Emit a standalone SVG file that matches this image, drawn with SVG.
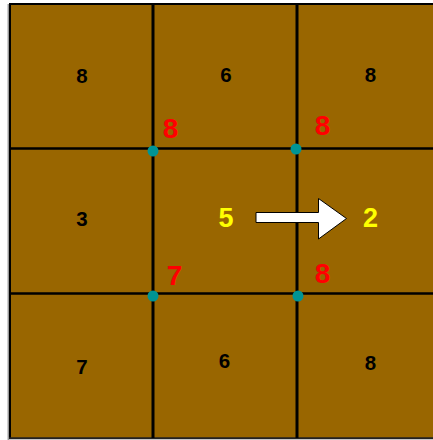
<svg xmlns="http://www.w3.org/2000/svg" width="433" height="440" viewBox="0 0 433 440">
<style>
.cell{font-family:"Liberation Sans",Arial,sans-serif;font-size:20.5px;font-weight:bold;fill:#000;text-anchor:middle}
.red{font-family:"Liberation Sans",Arial,sans-serif;font-size:28px;font-weight:bold;fill:#ff0000;text-anchor:middle}
.yel{font-family:"Liberation Sans",Arial,sans-serif;font-size:27px;font-weight:bold;fill:#ffff00;text-anchor:middle}
.vl{stroke:#000;stroke-width:3}
.hl{stroke:#000;stroke-width:2.5}
.dot{fill:#009494}
</style>
<rect x="0" y="0" width="433" height="440" fill="#ffffff"/>
<g id="board">
<rect x="10" y="4" width="430" height="434" fill="#996600"/>
<line x1="8.3" y1="4" x2="8.3" y2="440" stroke="#999" stroke-width="1.5"/>
<line x1="10" y1="3" x2="10" y2="439" stroke="#000" stroke-width="2"/>
<line x1="9" y1="4" x2="433" y2="4" stroke="#000" stroke-width="2"/>
<line x1="9" y1="438.3" x2="433" y2="438.3" stroke="#222" stroke-width="2"/>
<line class="vl" x1="153" y1="4" x2="153" y2="438"/>
<line class="vl" x1="297" y1="4" x2="297" y2="438"/>
<line class="hl" x1="10" y1="148.5" x2="433" y2="148.5"/>
<line class="hl" x1="10" y1="293.5" x2="433" y2="293.5"/>
</g>
<g id="cell-0-0"><text class="cell" x="82" y="83">8</text></g>
<g id="cell-0-1"><text class="cell" x="226" y="82">6</text></g>
<g id="cell-0-2"><text class="cell" x="370.5" y="82">8</text></g>
<g id="cell-1-0"><text class="cell" x="82" y="225.5">3</text></g>
<g id="cell-1-1"><text class="yel" x="226" y="227">5</text></g>
<g id="cell-1-2"><text class="yel" x="370.5" y="227">2</text></g>
<g id="cell-2-0"><text class="cell" x="82" y="374">7</text></g>
<g id="cell-2-1"><text class="cell" x="224.5" y="368">6</text></g>
<g id="cell-2-2"><text class="cell" x="370.5" y="370">8</text></g>
<g id="corner-tl"><circle class="dot" cx="153" cy="151" r="5.5"/><text class="red" x="170.5" y="138">8</text></g>
<g id="corner-tr"><circle class="dot" cx="296" cy="149" r="5.5"/><text class="red" x="322.5" y="135">8</text></g>
<g id="corner-bl"><circle class="dot" cx="153" cy="296" r="5.5"/><text class="red" x="174.5" y="285">7</text></g>
<g id="corner-br"><circle class="dot" cx="298" cy="296" r="5.5"/><text class="red" x="322.5" y="283">8</text></g>
<g id="connectors">
<polygon points="256,212.5 318.5,212.5 318.5,198.5 346.5,218.5 318.5,239 318.5,222.5 256,222.5" fill="#ffffff" stroke="#000" stroke-width="1"/>
</g>
</svg>
